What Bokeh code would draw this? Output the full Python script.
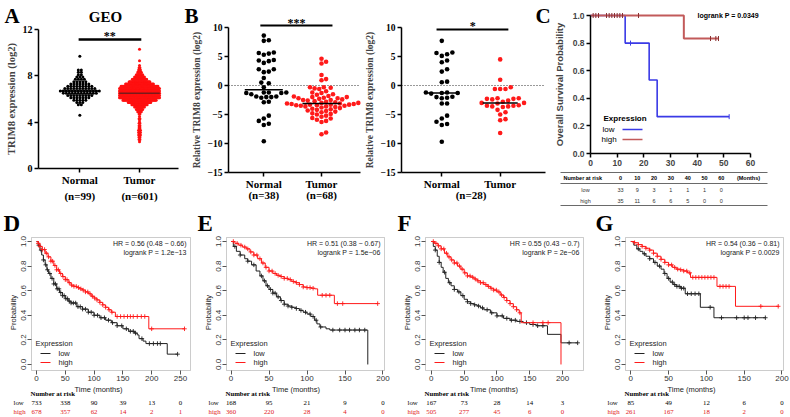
import numpy as np
from bokeh.plotting import figure
from bokeh.layouts import row, column
from bokeh.models import Range1d, FixedTicker, Label, BoxAnnotation, PrintfTickFormatter
from bokeh.core.properties import value
from bokeh.embed import file_html
from bokeh.resources import INLINE

# ======================= DATA =======================
groups = ["Normal", "Tumor"]

# Panel A (GEO): expression level (log2) -> number of samples at that level
geo_normal_levels = [9.7, 8.5, 8.3, 8.1, 7.9, 7.7, 7.5, 7.3, 7.1, 6.9, 6.7, 6.5, 6.3, 6.1, 5.9, 5.7, 5.5, 4.6]
geo_normal_counts = [1, 2, 2, 2, 3, 4, 5, 7, 9, 11, 14, 12, 9, 7, 5, 3, 2, 1]
geo_tumor_levels = [10.3, 9.3, 8.9, 8.7, 8.5, 8.3, 8.1, 7.9, 7.7, 7.5, 7.3, 7.1, 6.9, 6.7, 6.5,
                    6.3, 6.1, 5.9, 5.7, 5.5, 5.3, 5.1, 4.9, 4.7, 4.5, 4.3, 4.1, 3.9, 3.7, 3.5,
                    3.3, 3.1, 2.9, 2.7, 2.5, 2.3]
geo_tumor_counts = [1, 1, 1, 2, 3, 5, 8, 12, 17, 24, 32, 42, 52, 66, 78,
                    68, 56, 38, 26, 18, 12, 8, 5, 2, 1, 2, 1, 2, 2, 2,
                    3, 3, 3, 2, 2, 1]
geo_n = ["(n=99)", "(n=601)"]
geo_sig = "**"

# Panel B (left): relative expression
b1_normal = [8.6, 7.8, 7.7, 5.7, 5.6, 5.3, 5.5, 4.4, 4.3, 3.9, 4.2, 2.8, 2.4, 2.3, 2.8, 1.3, 0.5, 0.4,
             -0.3, -1.2, -1.3, -1.2, -1.3, -1.2, -1.5, -1.9, -2.0, -2.1, -2.0, -1.9, -2.8, -2.9,
             -5.2, -5.7, -6.1, -6.6, -6.8, -9.6]
b1_tumor = [4.6, 4.1, 3.8, 1.8, 1.1, 0.9, -0.3, -0.4, -0.3, -0.5, -0.6,
            -1.0, -1.2, -1.3, -1.5, -1.6, -1.8, -1.9, -2.0, -2.0, -2.1,
            -2.2, -2.3, -2.4, -2.5, -2.5, -2.6, -2.7, -2.8, -2.9, -3.0,
            -3.0, -3.1, -3.1, -3.2, -3.2, -3.3, -3.3, -3.4, -3.4, -3.5,
            -3.5, -3.6, -3.6, -3.7, -3.8, -3.9, -4.0, -4.1, -4.2, -4.3,
            -4.4, -4.5, -4.6, -4.8, -4.9, -5.0, -5.2, -5.4, -5.6, -5.7,
            -5.9, -6.1, -6.3, -8.1, -8.4, -2.2, -3.3]
b1_n = ["(n=38)", "(n=68)"]
b1_sig = "***"

# Panel B (right): paired samples
b2_normal = [7.7, 5.4, 5.1, 5.6, 5.7, 4.3, 4.0, 2.8, 2.4, 0.66, 0.55,
             -1.2, -1.3, -1.3, -1.2, -1.4, -1.95, -2.2, -2.0, -2.1,
             -3.1, -3.1, -5.2, -5.7, -6.25, -6.65, -6.8, -9.7]
b2_tumor = [4.5, 1.0, -0.3, -0.6, -0.6, -0.6, -2.2, -2.2, -2.3, -2.3, -2.4, -2.6, -2.8, -3.0,
            -3.0, -3.1, -3.4, -3.5, -3.5, -3.6, -3.6, -3.7, -4.2, -4.6, -5.0, -5.8, -6.0, -8.2]
b2_n = "(n=28)"
b2_sig = "*"

# Panel C: Kaplan-Meier (months, survival)
c_low_t = [0, 13, 22, 25, 52]
c_low_s = [1.0, 0.8, 0.533, 0.267, 0.267]
c_low_cens = [15, 52]
c_high_t = [0, 35, 48]
c_high_s = [1.0, 0.833, 0.833]
c_high_cens = [1, 2, 3, 6, 7, 8, 9, 10, 11, 12, 18, 45, 47, 48]
c_months = [0, 10, 20, 30, 40, 50, 60]
c_risk_low = [33, 9, 3, 1, 1, 1, 0]
c_risk_high = [35, 11, 6, 6, 5, 0, 0]
c_logrank = "logrank P = 0.0349"

# Panel D
d_ticks = [0, 50, 100, 150, 200, 250]
d_low_t = [0, 3, 6, 9, 12, 15, 18, 21, 25, 30, 35, 40, 45, 50, 55, 60, 70, 80, 90, 100, 110, 120, 130,
           140, 150, 160, 170, 175, 178, 185, 190, 227, 245]
d_low_s = [1.0, 0.97, 0.93, 0.89, 0.85, 0.81, 0.77, 0.74, 0.70, 0.655, 0.615, 0.585, 0.56, 0.535, 0.515,
           0.5, 0.47, 0.45, 0.425, 0.40, 0.38, 0.36, 0.34, 0.315, 0.29, 0.27, 0.255, 0.24, 0.21, 0.19,
           0.17, 0.084, 0.084]
d_low_cens = [4, 8, 12, 16, 19, 23, 27, 30, 33, 36, 39, 42, 45, 48, 51, 54, 57, 60, 64, 68, 72, 76, 80,
              85, 90, 95, 100, 106, 112, 118, 125, 132, 140, 148, 156, 163, 168, 172, 183, 196, 203,
              210, 215, 245]
d_high_t = [0, 3, 6, 10, 15, 20, 25, 30, 35, 40, 45, 50, 55, 60, 65, 70, 75, 80, 85, 90, 95, 100, 105,
            110, 115, 120, 125, 130, 137, 195, 257]
d_high_s = [1.0, 0.985, 0.96, 0.935, 0.905, 0.875, 0.84, 0.805, 0.77, 0.74, 0.715, 0.69, 0.665, 0.645,
            0.635, 0.625, 0.615, 0.605, 0.59, 0.575, 0.555, 0.54, 0.525, 0.505, 0.485, 0.465, 0.445,
            0.425, 0.39, 0.29, 0.29]
d_high_cens = [3, 6, 10, 14, 17, 21, 25, 28, 32, 35, 38, 42, 46, 50, 53, 57, 61, 65, 69, 73, 77, 81, 85,
               89, 93, 97, 101, 105, 110, 115, 120, 126, 131, 140, 146, 152, 158, 163, 168, 175, 182,
               188, 200, 257]
d_hr = "HR = 0.56 (0.48 \u2212 0.66)"
d_p = "logrank P = 1.2e\u221213"
d_risk_low = [733, 338, 90, 39, 13, 0]
d_risk_high = [678, 357, 62, 14, 2, 1]

# Panel E
e_ticks = [0, 50, 100, 150, 200]
e_low_t = [0, 3, 7, 12, 18, 22, 27, 33, 38, 42, 46, 50, 55, 60, 65, 70, 75, 80, 85, 90, 95, 100, 105,
           110, 113, 117, 125, 130, 180, 180]
e_low_s = [1.0, 0.96, 0.92, 0.89, 0.86, 0.84, 0.81, 0.76, 0.72, 0.68, 0.64, 0.61, 0.58, 0.55, 0.52,
           0.49, 0.475, 0.465, 0.455, 0.44, 0.425, 0.41, 0.39, 0.36, 0.33, 0.305, 0.29, 0.28, 0.0, 0.0]
e_low_cens = [5, 12, 22, 30, 40, 44, 48, 52, 55, 58, 62, 66, 70, 75, 80, 86, 92, 98, 104, 108, 112, 118,
              134, 143, 150, 156, 163, 169, 176]
e_high_t = [0, 5, 10, 15, 20, 25, 30, 35, 40, 45, 50, 55, 60, 65, 70, 75, 80, 85, 90, 95, 100, 105, 110,
            114, 136, 193]
e_high_s = [1.0, 0.985, 0.97, 0.955, 0.94, 0.915, 0.89, 0.86, 0.825, 0.79, 0.76, 0.74, 0.725, 0.715,
            0.70, 0.69, 0.675, 0.665, 0.65, 0.63, 0.625, 0.62, 0.615, 0.563, 0.495, 0.495]
e_high_cens = [3, 8, 13, 18, 22, 26, 30, 34, 38, 42, 46, 50, 54, 58, 62, 66, 70, 74, 78, 82, 86, 90, 95,
               100, 104, 108, 120, 125, 130, 140, 147, 193]
e_hr = "HR = 0.51 (0.38 \u2212 0.67)"
e_p = "logrank P = 1.5e\u221206"
e_risk_low = [168, 95, 21, 9, 0]
e_risk_high = [360, 220, 28, 4, 0]

# Panel F
f_ticks = [0, 50, 100, 150, 200]
f_low_t = [0, 3, 6, 9, 12, 15, 18, 22, 26, 30, 35, 40, 45, 50, 55, 60, 65, 70, 75, 80, 90, 100, 110, 120,
           130, 140, 150, 160, 177, 197.6, 223]
f_low_s = [1.0, 0.96, 0.93, 0.88, 0.83, 0.79, 0.75, 0.70, 0.665, 0.64, 0.61, 0.59, 0.56, 0.53, 0.51,
           0.495, 0.485, 0.475, 0.46, 0.445, 0.42, 0.395, 0.375, 0.36, 0.35, 0.34, 0.325, 0.315, 0.245,
           0.176, 0.176]
f_low_cens = [6, 12, 20, 28, 35, 42, 48, 55, 60, 66, 72, 78, 85, 92, 100, 108, 115, 122, 128, 135, 145,
              155, 162, 170, 210, 223]
f_high_t = [0, 5, 10, 15, 20, 25, 30, 35, 40, 45, 50, 55, 60, 65, 70, 75, 80, 85, 90, 95, 100, 105, 110,
            115, 120, 125, 130, 134, 137, 197.6, 197.6]
f_high_s = [1.0, 0.985, 0.965, 0.94, 0.905, 0.875, 0.85, 0.825, 0.8, 0.775, 0.745, 0.72, 0.71, 0.695,
            0.68, 0.665, 0.65, 0.635, 0.62, 0.605, 0.59, 0.565, 0.545, 0.52, 0.495, 0.47, 0.445, 0.42,
            0.34, 0.0, 0.0]
f_high_cens = [3, 7, 11, 15, 19, 23, 27, 31, 35, 39, 43, 47, 51, 55, 59, 63, 67, 71, 75, 79, 83, 87, 91,
               95, 99, 103, 107, 111, 115, 120, 125, 130, 135, 155, 170, 178]
f_hr = "HR = 0.55 (0.43 \u2212 0.7)"
f_p = "logrank P = 2e\u221206"
f_risk_low = [167, 73, 28, 14, 3]
f_risk_high = [505, 277, 45, 6, 0]

# Panel G
g_ticks = [0, 50, 100, 150, 200]
g_low_t = [0, 4, 8, 12, 16, 20, 25, 30, 35, 40, 44, 48, 52, 56, 60, 66, 72, 92, 110, 178]
g_low_s = [1.0, 0.97, 0.94, 0.92, 0.9, 0.88, 0.86, 0.83, 0.80, 0.775, 0.74, 0.70, 0.67, 0.65, 0.635,
           0.62, 0.575, 0.465, 0.38, 0.38]
g_low_cens = [10, 18, 25, 32, 38, 45, 50, 55, 58, 61, 64, 67, 70, 75, 80, 85, 90, 105, 120, 140, 150,
              155, 165, 178]
g_high_t = [0, 5, 10, 15, 20, 25, 30, 35, 40, 45, 50, 55, 60, 65, 70, 75, 79, 114, 138.5, 195.6]
g_high_s = [1.0, 0.99, 0.975, 0.96, 0.945, 0.93, 0.905, 0.88, 0.855, 0.83, 0.81, 0.79, 0.775, 0.77,
            0.76, 0.745, 0.708, 0.635, 0.473, 0.473]
g_high_cens = [5, 10, 15, 20, 25, 30, 35, 40, 45, 50, 54, 58, 62, 66, 70, 74, 78, 82, 86, 90, 94, 98,
               102, 106, 110, 118, 122, 126, 130, 172, 195]
g_hr = "HR = 0.54 (0.36 \u2212 0.81)"
g_p = "logrank P = 0.0029"
g_risk_low = [85, 49, 12, 6, 0]
g_risk_high = [261, 167, 18, 2, 0]

# ======================= HELPERS =======================
SERIF = "Liberation Serif"
SANS = "Liberation Sans"


class Pan:
    """A figure whose canvas is all frame; the plot region (vf) is mapped by the ranges."""

    def __init__(self, box, vf, xr, yr):
        x0, x1, y0, y1 = box
        fl, fr, ft, fb = vf
        self.vf, self.xr, self.yr = vf, xr, yr
        self.ppx = (fr - fl) / (xr[1] - xr[0])
        self.ppy = (fb - ft) / (yr[1] - yr[0])
        fx = (xr[0] - (fl - x0) / self.ppx, xr[1] + (x1 - fr) / self.ppx)
        fy = (yr[0] - (y1 - fb) / self.ppy, yr[1] + (ft - y0) / self.ppy)
        p = figure(width=x1 - x0, height=y1 - y0, x_range=Range1d(*fx), y_range=Range1d(*fy),
                   min_border=0, output_backend="svg", toolbar_location=None)
        p.xgrid.visible = False
        p.ygrid.visible = False
        p.outline_line_color = None
        p.background_fill_color = "white"
        p.border_fill_color = "white"
        self.p = p

    def dx(self, ax):
        return self.xr[0] + (ax - self.vf[0]) / self.ppx

    def dy(self, ay):
        return self.yr[0] + (self.vf[3] - ay) / self.ppy

    def put(self, ax, ay, text, size, font=SANS, style="normal", color="black",
            align="left", baseline="middle", angle=0.0, xdata=None):
        x = self.dx(ax) if xdata is None else xdata
        self.p.add_layout(Label(x=x, y=self.dy(ay), text=text, text_font=font,
                                text_font_size=f"{size}px", text_font_style=style,
                                text_color=color, text_align=align, text_baseline=baseline,
                                angle=angle))

    def letter(self, ax, ay, text, size):
        self.p.text(x=[self.dx(ax)], y=[self.dy(ay)], text=[text], text_font=value(SERIF),
                    text_font_size=f"{size}px", text_font_style="bold", text_color="black",
                    text_align="left", text_baseline="middle")

    def hline(self, ax0, ax1, ay, color="black", width=1.0):
        self.p.segment([self.dx(ax0)], [self.dy(ay)], [self.dx(ax1)], [self.dy(ay)],
                       line_color=color, line_width=width)


def surv_at(t, times, surv):
    s = surv[0]
    for ti, si in zip(times, surv):
        if ti <= t:
            s = si
        else:
            break
    return s


def swarm_offsets(vals, d, ppx, ppy):
    order = sorted(range(len(vals)), key=lambda i: vals[i])
    placed = []
    offs = [0.0] * len(vals)
    cands = [0.0]
    for k in range(1, 60):
        cands += [k * d / 2, -k * d / 2]
    for i in order:
        ypx = vals[i] * ppy
        chosen = 0.0
        for c in cands:
            if all((c - px) ** 2 + (ypx - py) ** 2 >= d * d * 0.97 for px, py in placed):
                chosen = c
                break
        placed.append((chosen, ypx))
        offs[i] = chosen / ppx
    return offs


def row_offsets(levels, counts, step_px, max_px, ppx):
    xs, ys = [], []
    for v, n in zip(levels, counts):
        w = min((n - 1) * step_px, max_px)
        for k in range(n):
            off = 0.0 if n == 1 else -w / 2 + k * w / (n - 1)
            xs.append(off / ppx)
            ys.append(v)
    return xs, ys


def gp_axes(P, yticks, tick_size, ylabel, ylabel_size):
    p = P.p
    p.xaxis.fixed_location = P.yr[0]
    p.yaxis.fixed_location = P.xr[0]
    p.yaxis.ticker = FixedTicker(ticks=yticks)
    p.yaxis.bounds = (P.yr[0], P.yr[1])
    p.xaxis.ticker = FixedTicker(ticks=[1, 2])
    p.xaxis.bounds = (P.xr[0], P.xr[1])
    p.xaxis.major_label_overrides = {1: groups[0], 2: groups[1]}
    for ax in (p.xaxis[0], p.yaxis[0]):
        ax.axis_line_width = 1.5
        ax.axis_line_color = "black"
        ax.major_tick_line_width = 1.5
        ax.major_tick_out = 4
        ax.major_tick_in = 0
        ax.minor_tick_line_color = None
        ax.major_label_text_font = SERIF
        ax.major_label_text_font_style = "bold"
        ax.major_label_text_color = "black"
        ax.major_label_standoff = 2
    p.yaxis.major_label_text_font_size = f"{tick_size}px"
    p.xaxis.major_label_text_font_size = "11px"
    p.xaxis.major_label_standoff = 1
    p.yaxis.axis_label = ylabel
    p.yaxis.axis_label_text_font = SERIF
    p.yaxis.axis_label_text_font_style = "bold"
    p.yaxis.axis_label_text_font_size = f"{ylabel_size}px"
    p.yaxis.axis_label_standoff = 3


# ======================= PANEL A =======================
A = Pan((0, 183, 0, 207), (38, 178, 29, 168), (0.308, 2.653), (0, 12))
gp_axes(A, [0, 4, 8, 12], 10, "TRIM8 expression (log2)", 10.5)
nx, ny = row_offsets(geo_normal_levels, geo_normal_counts, 3.0, 40, A.ppx)
tx, ty = row_offsets(geo_tumor_levels, geo_tumor_counts, 0.9, 40, A.ppx)
A.p.scatter([1 + v for v in nx], ny, size=3, color="black", line_width=0)
A.p.scatter([2 + v for v in tx], ty, size=3, color="#ff1010", line_width=0)
medA_n = float(np.median(np.repeat(geo_normal_levels, geo_normal_counts)))
medA_t = float(np.median(np.repeat(geo_tumor_levels, geo_tumor_counts)))
A.p.segment([0.66, 1.66], [medA_n, medA_t], [1.34, 2.34], [medA_n, medA_t],
            line_color=["black", "#7a1a1a"], line_width=1.5)
A.p.segment([0.98], [A.dy(39)], [2.03], [A.dy(39)], line_color="black", line_width=2.6)
A.put(0, 35.5, geo_sig, 12, font=SERIF, style="bold", align="center", xdata=1.5)
A.put(0, 195, geo_n[0], 11, font=SERIF, style="bold", align="center", xdata=1)
A.put(0, 195, geo_n[1], 11, font=SERIF, style="bold", align="center", xdata=2)
A.letter(4, 15, "A", 21)
A.put(105, 16, "GEO", 15, font=SERIF, style="bold", align="center")

# ======================= PANEL B1 =======================
B1 = Pan((183, 363, 0, 207), (228, 360, 27, 172), (0.388, 2.676), (-15, 10))
gp_axes(B1, [-15, -10, -5, 0, 5, 10], 9.5, "Relative TRIM8 expression (log2)", 9.5)
B1.p.segment([B1.xr[0]], [0], [B1.xr[1]], [0], line_color="#333333", line_dash="1 2", line_width=1)
o1n = swarm_offsets(b1_normal, 5.0, B1.ppx, B1.ppy)
o1t = swarm_offsets(b1_tumor, 4.6, B1.ppx, B1.ppy)
B1.p.scatter([1 + o for o in o1n], b1_normal, size=4.6, color="black", line_width=0)
B1.p.scatter([2 + o for o in o1t], b1_tumor, size=4.6, color="#ff1a1a", line_width=0)
m1n, m1t = float(np.median(b1_normal)), float(np.median(b1_tumor))
B1.p.segment([0.67, 1.67], [m1n, m1t], [1.33, 2.33], [m1n, m1t], line_color="black", line_width=1.5)
B1.p.segment([0.94], [B1.dy(25)], [2.19], [B1.dy(25)], line_color="black", line_width=2.2)
B1.put(0, 22.5, b1_sig, 12, font=SERIF, style="bold", align="center", xdata=1.565)
B1.put(0, 194, b1_n[0], 11, font=SERIF, style="bold", align="center", xdata=1)
B1.put(0, 194, b1_n[1], 11, font=SERIF, style="bold", align="center", xdata=2)
B1.letter(184, 15, "B", 21)

# ======================= PANEL B2 =======================
B2 = Pan((363, 550, 0, 207), (401, 545, 27, 172), (0.31, 2.776), (-15, 10))
gp_axes(B2, [-15, -10, -5, 0, 5, 10], 9.5, "Relative TRIM8 expression (log2)", 9.5)
B2.p.segment([B2.xr[0]], [0], [B2.xr[1]], [0], line_color="#333333", line_dash="1 2", line_width=1)
o2n = swarm_offsets(b2_normal, 5.3, B2.ppx, B2.ppy)
o2t = swarm_offsets(b2_tumor, 5.3, B2.ppx, B2.ppy)
B2.p.scatter([1 + o for o in o2n], b2_normal, size=4.6, color="black", line_width=0)
B2.p.scatter([2 + o for o in o2t], b2_tumor, size=4.6, color="#ff1a1a", line_width=0)
m2n, m2t = float(np.median(b2_normal)), float(np.median(b2_tumor))
B2.p.segment([0.7, 1.7], [m2n, m2t], [1.3, 2.3], [m2n, m2t], line_color="black", line_width=1.5)
B2.p.segment([0.91], [B2.dy(29)], [2.14], [B2.dy(29)], line_color="black", line_width=2.2)
B2.put(0, 25, b2_sig, 12, font=SERIF, style="bold", align="center", xdata=1.53)
B2.put(0, 194, b2_n, 11, font=SERIF, style="bold", align="center", xdata=1.5)
B2.letter(535, 15, "C", 21)

# ======================= PANEL C =======================
C = Pan((550, 790, 0, 207), (590, 750, 15, 153), (0, 60), (0, 1))
pC = C.p
pC.xaxis.fixed_location = 0
pC.yaxis.fixed_location = 0
pC.xaxis.ticker = FixedTicker(ticks=c_months)
pC.xaxis.bounds = (0, 60)
pC.yaxis.ticker = FixedTicker(ticks=[0, 0.2, 0.4, 0.6, 0.8, 1.0])
pC.yaxis.bounds = (0, 1)
pC.yaxis.formatter = PrintfTickFormatter(format="%.1f")
for ax in (pC.xaxis[0], pC.yaxis[0]):
    ax.axis_line_width = 1.5
    ax.major_tick_line_width = 1.5
    ax.major_tick_out = 4
    ax.major_tick_in = 0
    ax.minor_tick_line_color = None
    ax.major_label_text_font = SANS
    ax.major_label_text_font_style = "bold"
    ax.major_label_text_font_size = "8.5px"
    ax.major_label_standoff = 2
pC.yaxis.axis_label = "Overall Survival Probability"
pC.yaxis.axis_label_text_font = SANS
pC.yaxis.axis_label_text_font_style = "bold"
pC.yaxis.axis_label_text_font_size = "9.5px"
pC.yaxis.axis_label_standoff = 5
pC.step(c_low_t, c_low_s, mode="after", line_color="#3a3ae6", line_width=1.6)
pC.step(c_high_t, c_high_s, mode="after", line_color="#c25a5a", line_width=2)
pC.scatter(c_low_cens, [surv_at(t, c_low_t, c_low_s) for t in c_low_cens], marker="dash",
           angle=np.pi / 2, size=5, line_color="#3a3ae6", line_width=1)
pC.scatter(c_high_cens, [surv_at(t, c_high_t, c_high_s) for t in c_high_cens], marker="dash",
           angle=np.pi / 2, size=5, line_color="#8a3030", line_width=1)
C.put(697, 15, c_logrank, 7, style="bold")
C.put(603, 118, "Expression", 8, style="bold")
C.put(602, 129, "low", 8)
C.put(601, 139, "high", 8)
C.hline(622, 642, 129, color="#3a3ae6", width=1.5)
C.hline(622, 642, 139, color="#c25a5a", width=1.5)
for yy in (172, 183, 205):
    C.hline(560, 767, yy, color="#444444", width=0.8)
C.put(563, 177.5, "Number at risk", 5.5, style="bold")
for i, m in enumerate(c_months):
    cx = 620 + i * 16.8
    C.put(cx, 177.5, str(m), 5.5, style="bold", align="center")
    C.put(cx, 189, str(c_risk_low[i]), 5.5, align="center", color="#333333")
    C.put(cx, 200, str(c_risk_high[i]), 5.5, align="center", color="#333333")
C.put(748, 177.5, "(Months)", 5.5, style="bold", align="center")
C.put(585, 189, "low", 5.5, align="center", color="#333333")
C.put(585, 200, "high", 5.5, align="center", color="#333333")


# ======================= PANELS D-G =======================
def km_panel(box, vf, xr, ticks, letter, letter_x, low, high, hr, lp, risk_low, risk_high):
    P = Pan(box, vf, xr, (-0.049, 1.0325))
    p = P.p
    fl, fr, ft, fb = vf
    p.add_layout(BoxAnnotation(left=P.xr[0], right=P.xr[1], bottom=P.yr[0], top=P.yr[1],
                               fill_alpha=0, line_color="#555555", line_width=1))
    p.xaxis.fixed_location = P.yr[0]
    p.yaxis.fixed_location = P.xr[0]
    p.xaxis.ticker = FixedTicker(ticks=ticks)
    p.yaxis.ticker = FixedTicker(ticks=[0, 0.2, 0.4, 0.6, 0.8, 1.0])
    p.yaxis.formatter = PrintfTickFormatter(format="%.1f")
    for ax in (p.xaxis[0], p.yaxis[0]):
        ax.axis_line_color = None
        ax.major_tick_line_color = "#555555"
        ax.major_tick_out = 4
        ax.major_tick_in = 0
        ax.minor_tick_line_color = None
        ax.major_label_text_font = SANS
        ax.major_label_text_font_size = "8px"
        ax.major_label_text_color = "#333333"
        ax.major_label_standoff = 1
        ax.axis_label_text_font = SANS
        ax.axis_label_text_font_size = "7.5px"
        ax.axis_label_text_font_style = "normal"
        ax.axis_label_text_color = "#222222"
        ax.axis_label_standoff = 1
    p.yaxis.major_label_orientation = "vertical"
    p.xaxis.axis_label = "Time (months)"
    p.yaxis.axis_label = "Probability"
    for (t, s, cens), col in ((low, "#222222"), (high, "#ff1a1a")):
        p.step(t, s, mode="after", line_color=col, line_width=1)
        p.scatter(cens, [surv_at(c, t, s) for c in cens], marker="cross", size=4.5,
                  line_color=col, line_width=0.9)
    P.put(fr - 4, ft + 6, hr, 7, align="right", color="#222222")
    P.put(fr - 4, ft + 15, lp, 7, align="right", color="#222222")
    P.put(fl + 4, fb - 27, "Expression", 7.5, color="#222222")
    P.hline(fl + 9, fl + 19, fb - 17, color="#222222", width=1)
    P.hline(fl + 9, fl + 19, fb - 8, color="#ff1a1a", width=1)
    P.put(fl + 27, fb - 17, "low", 7.5, color="#222222")
    P.put(fl + 27, fb - 8, "high", 7.5, color="#222222")
    P.put(fl - 1, 393, "Number at risk", 6.8, font=SERIF, style="bold")
    P.put(fl - 18, 402, "low", 6.8, font=SERIF)
    P.put(fl - 18, 411, "high", 6.8, font=SERIF, color="#e02020")
    for tk, a, b in zip(ticks, risk_low, risk_high):
        P.put(0, 402, str(a), 6.8, font=SERIF, align="center", xdata=tk)
        P.put(0, 411, str(b), 6.8, font=SERIF, align="center", color="#e02020", xdata=tk)
    P.letter(letter_x, 223, letter, 23)
    return p


pD = km_panel((0, 196, 207, 417), (31, 190, 237, 370), (-8.7, 267.4), d_ticks, "D", 3,
              (d_low_t, d_low_s, d_low_cens), (d_high_t, d_high_s, d_high_cens),
              d_hr, d_p, d_risk_low, d_risk_high)
pE = km_panel((196, 395, 207, 417), (226, 384, 237, 370), (-6, 202), e_ticks, "E", 197,
              (e_low_t, e_low_s, e_low_cens), (e_high_t, e_high_s, e_high_cens),
              e_hr, e_p, e_risk_low, e_risk_high)
pF = km_panel((395, 592, 207, 417), (425, 583, 237, 370), (-8.9, 231.9), f_ticks, "F", 397,
              (f_low_t, f_low_s, f_low_cens), (f_high_t, f_high_s, f_high_cens),
              f_hr, f_p, f_risk_low, f_risk_high)
pG = km_panel((592, 790, 207, 417), (625, 783, 237, 370), (-7, 202), g_ticks, "G", 595,
              (g_low_t, g_low_s, g_low_cens), (g_high_t, g_high_s, g_high_cens),
              g_hr, g_p, g_risk_low, g_risk_high)

layout = column(row(A.p, B1.p, B2.p, C.p), row(pD, pE, pF, pG))
open("out.html", "w").write(file_html(layout, INLINE, title="TRIM8 figure"))
